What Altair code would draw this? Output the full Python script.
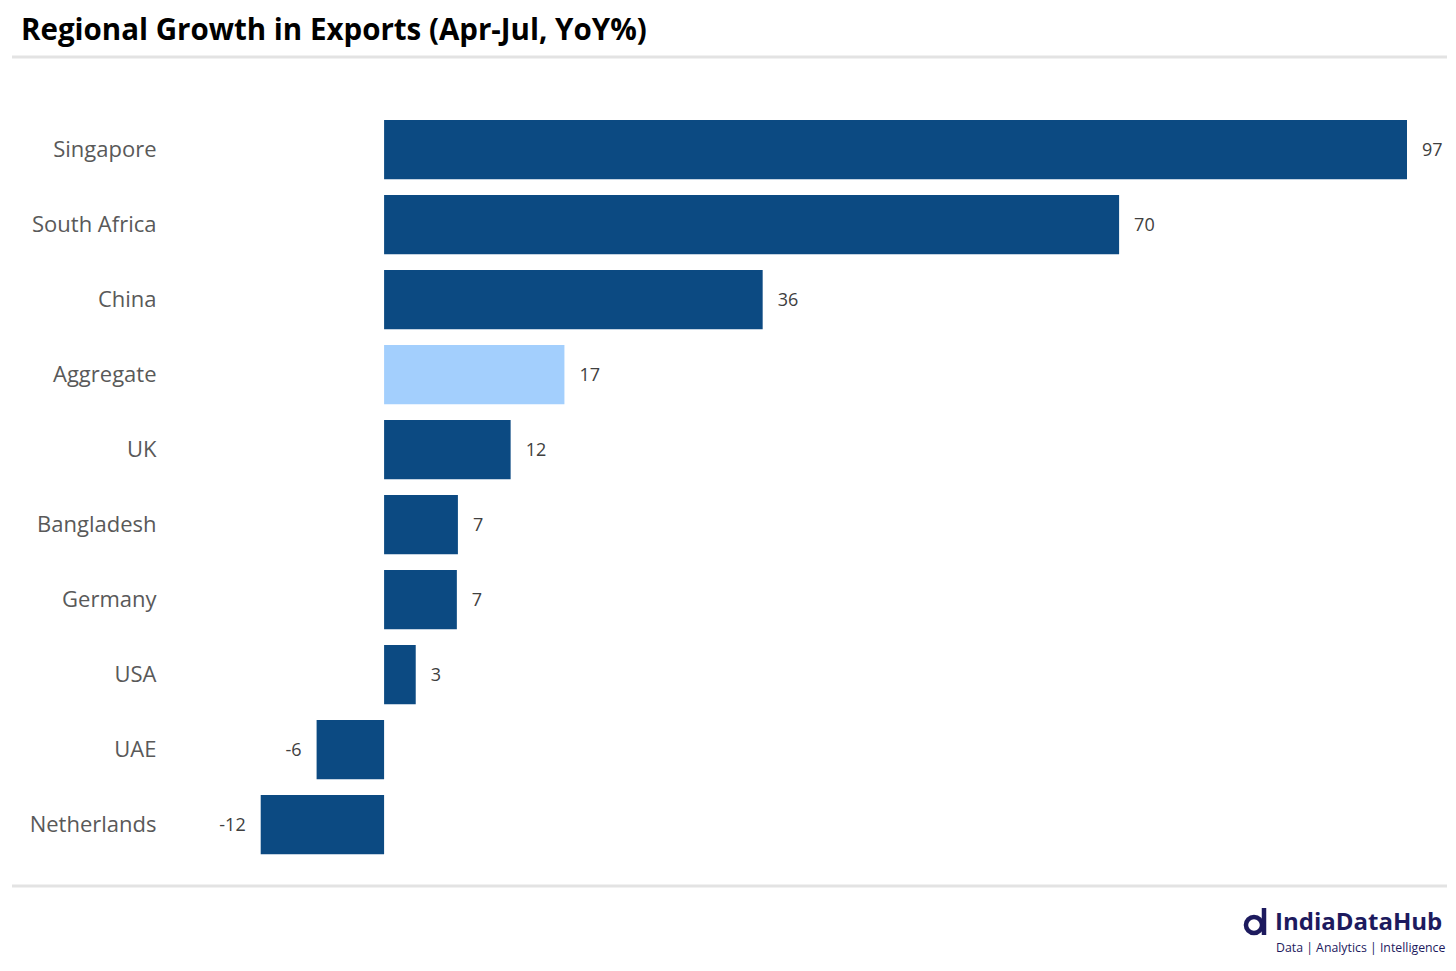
import altair as alt
import pandas as pd

countries = ["Singapore", "South Africa", "China", "Aggregate", "UK",
             "Bangladesh", "Germany", "USA", "UAE", "Netherlands"]
growth = [97.0, 69.7, 35.9, 17.1, 12.0, 7.0, 6.9, 3.0, -6.4, -11.7]
kind = ["country", "country", "country", "aggregate", "country",
        "country", "country", "country", "country", "country"]

df = pd.DataFrame({"country": countries, "growth": growth, "kind": kind})

W, H = 1160, 750
FONT = "Open Sans"
NAVY = "#1d1a5e"

y_enc = alt.Y("country:N", sort=countries, title=None,
              scale=alt.Scale(paddingInner=0.21, paddingOuter=0.105),
              axis=alt.Axis(domain=False, ticks=False, labelFont=FONT,
                            labelFontSize=22, labelColor="#595959",
                            labelPadding=91, labelBaseline="middle"))
x_enc = alt.X("growth:Q", title=None,
              scale=alt.Scale(domain=[-13, 97], nice=False, zero=False),
              axis=None)

base = alt.Chart(df).transform_calculate(lbl="'' + round(datum.growth)")

bars = base.mark_bar().encode(
    x=x_enc,
    x2=alt.datum(0),
    y=y_enc,
    color=alt.Color("kind:N", legend=None,
                    scale=alt.Scale(domain=["country", "aggregate"],
                                    range=["#0c4a82", "#a3cffd"])),
)

pos_labels = base.transform_filter("datum.growth >= 0").mark_text(
    align="left", baseline="middle", dx=15, dy=1, font=FONT, fontSize=18, color="#404040"
).encode(x=x_enc, y=y_enc, text="lbl:N")

neg_labels = base.transform_filter("datum.growth < 0").mark_text(
    align="right", baseline="middle", dx=-15, dy=1, font=FONT, fontSize=18, color="#404040"
).encode(x=x_enc, y=y_enc, text="lbl:N")

one = pd.DataFrame({"k": [0]})

title = alt.Chart(one).mark_text(
    align="left", baseline="alphabetic", font=FONT, fontSize=29.5,
    fontWeight="bold", color="#000000", text="Regional Growth in Exports (Apr-Jul, YoY%)"
).encode(x=alt.value(-226), y=alt.value(-72))

top_line = alt.Chart(one).mark_rule(color="#e3e3e3", strokeWidth=3).encode(
    x=alt.value(-235), x2=alt.value(1203), y=alt.value(-55))
bottom_line = alt.Chart(one).mark_rule(color="#e3e3e3", strokeWidth=3).encode(
    x=alt.value(-235), x2=alt.value(1203), y=alt.value(774))

logo_main = alt.Chart(one).mark_text(
    align="left", baseline="alphabetic", font=FONT, fontSize=24,
    fontWeight="bold", color=NAVY, text="IndiaDataHub"
).encode(x=alt.value(1028), y=alt.value(818))
logo_sub = alt.Chart(one).mark_text(
    align="left", baseline="alphabetic", font=FONT, fontSize=12.3,
    color=NAVY, text="Data | Analytics | Intelligence"
).encode(x=alt.value(1029), y=alt.value(840))
logo_ring = alt.Chart(one).mark_point(
    shape="circle", size=260, strokeWidth=4.5, color=NAVY, filled=False, opacity=1
).encode(x=alt.value(1007), y=alt.value(813))
logo_stem = alt.Chart(one).mark_rule(color=NAVY, strokeWidth=4.5).encode(
    x=alt.value(1017), y=alt.value(796), y2=alt.value(823))

chart = alt.layer(
    bars, pos_labels, neg_labels, title, top_line, bottom_line,
    logo_ring, logo_stem, logo_main, logo_sub
).properties(
    width=W, height=H,
    background="white",
    autosize=alt.AutoSizeParams(type="none"),
    padding={"left": 239, "top": 104, "right": 40, "bottom": 100},
).configure_view(strokeWidth=0, stroke=None)

chart.save("out.html", embed_options={"renderer": "svg", "actions": False})
